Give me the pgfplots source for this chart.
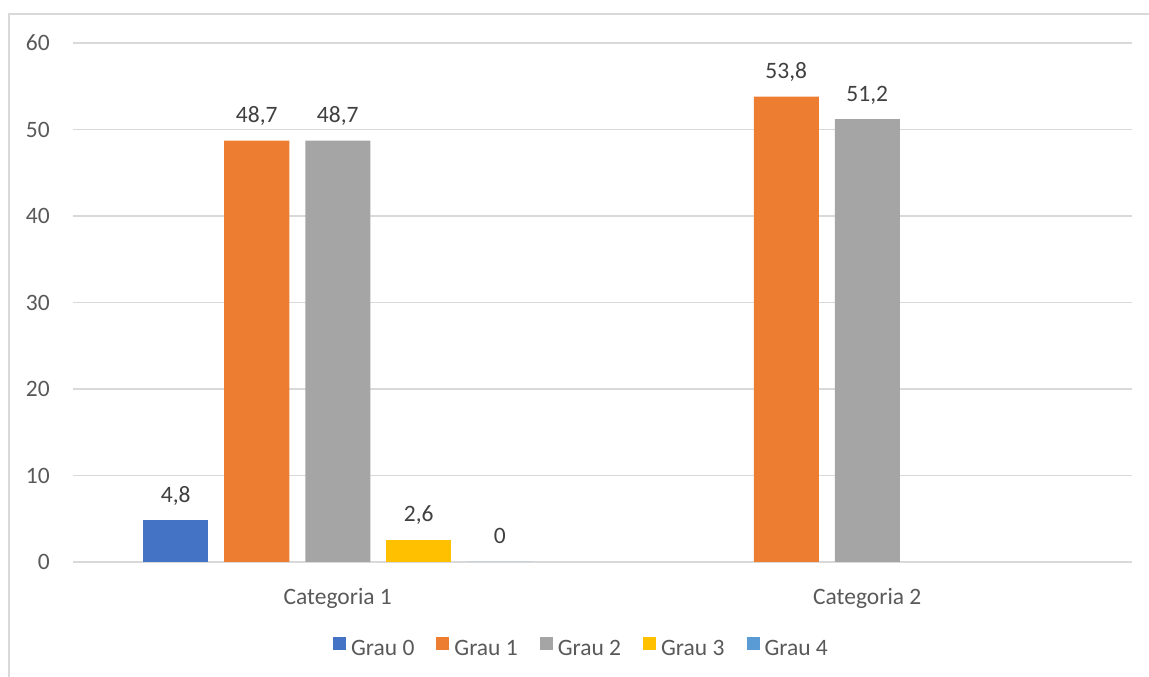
\documentclass[border=0pt]{standalone}
\usepackage{pgfplots}
\pgfplotsset{compat=1.18}
\usepackage{fontspec}
\setmainfont{Carlito}
\definecolor{c0}{HTML}{4472C4}
\definecolor{c1}{HTML}{ED7D31}
\definecolor{c2}{HTML}{A5A5A5}
\definecolor{c3}{HTML}{FFC000}
\definecolor{c4}{HTML}{5B9BD5}
\definecolor{gridc}{HTML}{D9D9D9}
\definecolor{tickc}{HTML}{595959}
\definecolor{labc}{HTML}{404040}
\begin{document}
\begin{tikzpicture}[font=\fontsize{23.5}{28}\selectfont]
\path[use as bounding box] (0,0) rectangle (1149pt,677pt);
\draw[color=gridc, line width=1.6pt] (9pt,0) -- (9pt,663pt) -- (1149pt,663pt);
\begin{axis}[
  at={(73pt,115pt)}, anchor=south west,
  scale only axis, width=1059pt, height=519pt,
  xmin=-0.5, xmax=1.5, ymin=0, ymax=60,
  ytick={0,10,20,30,40,50,60},
  xtick={0,1}, xticklabels={Categoria 1, Categoria 2},
  /pgf/number format/assume math mode=true,
  axis line style={draw=none},
  major tick style={draw=none},
  ymajorgrids,
  major grid style={color=gridc, line width=1.6pt},
  yticklabel style={anchor=east, inner sep=0pt, xshift=-23pt, color=tickc},
  xticklabel style={anchor=base, inner sep=0pt, yshift=-38pt, color=tickc},
  ybar=16pt, bar width=65pt,
  nodes near coords={\pgfmathprintnumber[use comma, fixed, precision=1]{\pgfplotspointmeta}},
  every node near coord/.append style={anchor=base, inner sep=0pt, yshift=18pt, color=labc},
  legend columns=5,
  legend style={draw=none, fill=none, at={(0.4792,-0.1638)}, anchor=center,
    font=\fontsize{23.5}{28}\selectfont, text=tickc,
    /tikz/every odd column/.append style={column sep=5pt},
    /tikz/every even column/.append style={column sep=22pt},
    nodes={inner sep=0pt}},
  legend image code/.code={\fill[#1] (0pt,-1pt) rectangle (13pt,12pt);},
]
\addplot[fill=c0, draw=none] coordinates {(0,4.8)};
\addplot[fill=c1, draw=none] coordinates {(0,48.7) (1,53.8)};
\addplot[fill=c2, draw=none] coordinates {(0,48.7) (1,51.2)};
\addplot[fill=c3, draw=none] coordinates {(0,2.6)};
\addplot[fill=c4, draw=none] coordinates {(0,0)};
\legend{Grau 0, Grau 1, Grau 2, Grau 3, Grau 4}
\end{axis}
\end{tikzpicture}
\end{document}
